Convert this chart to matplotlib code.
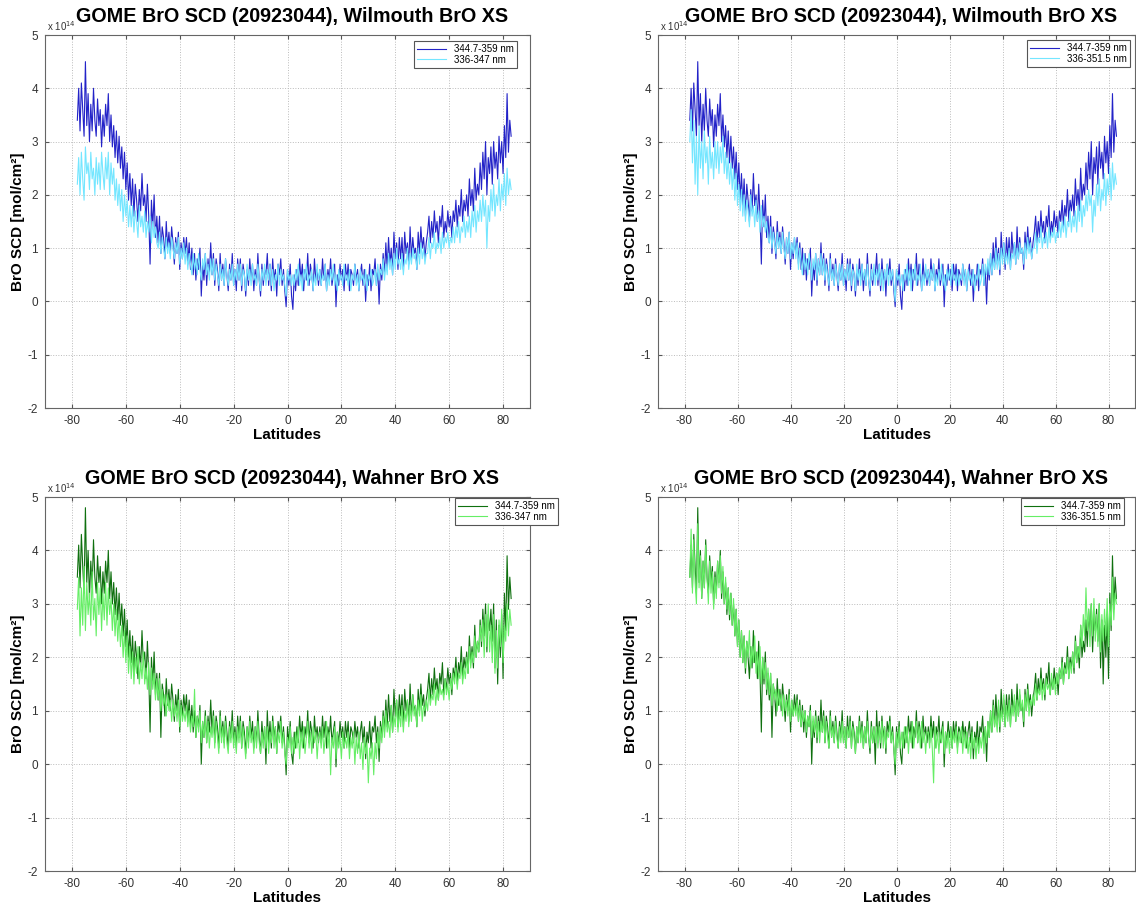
import numpy as np
import matplotlib
matplotlib.use('Agg')
import matplotlib.pyplot as plt

plt.rcParams['font.family'] = ['Liberation Sans', 'DejaVu Sans']
plt.rcParams['axes.unicode_minus'] = False

# latitude of the ground pixels along the orbit (deg)
lat = np.arange(-78, 83.5, 0.5)

# BrO slant columns in units of 1e14 molec/cm2, one row = 10 deg of latitude
wil_345 = [3.4, 4.0, 3.2, 4.1, 3.6, 3.1, 4.5, 3.3, 3.9, 3.0, 3.7, 3.2, 4.0, 3.4, 3.1, 3.8, 3.3, 3.6, 2.9, 3.5,
           3.1, 3.7, 3.3, 3.9, 3.0, 3.5, 2.9, 3.3, 2.7, 3.2, 2.6, 3.1, 2.5, 2.9, 2.3, 2.8, 2.1, 2.6, 1.9, 2.4,
           1.8, 2.3, 1.6, 2.2, 1.9, 1.5, 2.1, 1.7, 2.4, 1.8, 2.0, 1.5, 2.2, 1.6, 0.7, 1.9, 1.4, 2.0, 1.2, 1.6,
           1.1, 1.6, 0.9, 1.4, 1.2, 0.8, 1.5, 1.0, 1.3, 0.9, 1.4, 1.1, 0.7, 1.2, 0.9, 1.3, 0.6, 1.1, 0.8, 1.2,
           0.9, 1.2, 0.7, 1.1, 0.6, 1.0, 0.5, 0.9, 0.4, 0.8, 0.6, 1.0, 0.1, 0.7, 0.4, 0.9, 0.3, 0.8, 0.5, 1.1,
           0.5, 0.9, 0.3, 0.8, 0.6, 0.2, 0.9, 0.4, 0.7, 0.3, 0.8, 0.5, 0.2, 0.7, 0.4, 0.9, 0.3, 0.6, 0.2, 0.8,
           0.4, 0.8, 0.2, 0.7, 0.5, 0.1, 0.6, 0.3, 0.8, 0.4, 0.7, 0.2, 0.6, 0.3, 0.9, 0.4, 0.1, 0.7, 0.3, 0.6,
           0.5, 0.9, 0.3, 0.7, 0.2, 0.8, 0.4, 0.6, 0.1, 0.7, 0.5, 0.8, 0.3, 0.6, 0.2, -0.1, 0.6, 0.3, 0.7, 0.1,
           -0.15, 0.5, 0.2, 0.6, 0.3, 0.8, 0.4, 0.7, 0.2, 0.6, 0.4, 0.9, 0.3, 0.7, 0.5, 0.2, 0.8, 0.4, 0.6, 0.3,
           0.6, 0.3, 0.8, 0.4, 0.7, 0.2, 0.6, 0.4, 0.8, 0.3, 0.5, 0.7, -0.1, 0.5, 0.3, 0.7, 0.4, 0.6, 0.2, 0.7,
           0.4, 0.7, 0.2, 0.6, 0.5, 0.3, 0.7, 0.4, 0.6, 0.2, 0.5, 0.7, 0.3, 0.6, 0.0, 0.5, 0.3, 0.7, 0.2, 0.6,
           0.5, 0.8, 0.3, 0.6, -0.05, 0.7, 0.4, 0.9, 0.5, 1.1, 0.6, 1.2, 0.7, 1.0, 0.5, 1.3, 0.8, 1.1, 0.6, 1.2,
           0.8, 1.2, 0.6, 1.3, 0.9, 1.1, 0.7, 1.4, 0.8, 1.2, 0.9, 1.0, 0.6, 1.3, 0.9, 1.4, 1.0, 1.2, 0.8, 1.1,
           1.3, 1.6, 1.1, 1.5, 1.2, 1.7, 1.3, 1.5, 1.1, 1.6, 1.4, 1.8, 1.2, 1.5, 1.3, 1.7, 1.4, 1.6, 1.2, 1.7,
           1.5, 1.9, 1.4, 1.8, 1.6, 2.1, 1.5, 1.9, 1.7, 2.0, 1.6, 2.3, 1.8, 2.1, 1.7, 2.5, 1.9, 2.2, 2.0, 2.6,
           2.1, 2.8, 2.3, 3.0, 2.0, 2.7, 2.4, 2.9, 2.2, 3.0, 2.5, 2.8, 2.3, 3.1, 2.6, 3.0, 2.4, 3.3, 2.7, 3.9,
           2.8, 3.4, 3.1]

wil_336a = [2.2, 2.7, 2.0, 2.8, 2.3, 1.9, 2.9, 2.4, 2.6, 2.1, 2.8, 2.3, 2.5, 2.0, 2.7, 2.2, 2.6, 2.1, 2.8, 2.4,
            2.1, 2.7, 2.3, 2.8, 2.0, 2.6, 2.2, 2.5, 1.9, 2.3, 1.8, 2.2, 1.7, 2.1, 1.5, 2.0, 1.6, 1.9, 1.4, 1.8,
            1.4, 1.8, 1.3, 1.7, 1.5, 1.2, 1.8, 1.4, 1.6, 1.3, 1.7, 1.2, 1.5, 1.3, 1.6, 1.1, 1.5, 1.2, 1.4, 1.1,
            1.0, 1.3, 0.9, 1.2, 1.0, 0.8, 1.2, 0.9, 1.1, 0.8, 1.2, 1.0, 0.8, 1.1, 0.9, 1.2, 0.7, 1.0, 0.8, 1.1,
            0.7, 1.0, 0.6, 0.9, 0.7, 0.5, 0.9, 0.6, 0.8, 0.5, 0.9, 0.6, 0.4, 0.8, 0.6, 0.9, 0.5, 0.7, 0.4, 0.8,
            0.5, 0.8, 0.4, 0.7, 0.5, 0.3, 0.7, 0.4, 0.6, 0.3, 0.8, 0.5, 0.3, 0.6, 0.4, 0.7, 0.3, 0.6, 0.4, 0.7,
            0.4, 0.7, 0.3, 0.6, 0.5, 0.2, 0.7, 0.4, 0.6, 0.3, 0.7, 0.4, 0.5, 0.3, 0.7, 0.4, 0.2, 0.6, 0.4, 0.7,
            0.3, 0.6, 0.4, 0.7, 0.3, 0.6, 0.2, 0.5, 0.4, 0.7, 0.3, 0.6, 0.4, 0.5, 0.3, 0.1, 0.6, 0.4, 0.5, 0.3,
            0.5, 0.3, 0.6, 0.4, 0.7, 0.3, 0.5, 0.2, 0.6, 0.4, 0.7, 0.3, 0.5, 0.4, 0.6, 0.2, 0.5, 0.3, 0.7, 0.4,
            0.6, 0.3, 0.5, 0.4, 0.7, 0.2, 0.5, 0.3, 0.6, 0.4, 0.7, 0.3, 0.5, 0.2, 0.6, 0.4, 0.5, 0.3, 0.7, 0.4,
            0.5, 0.3, 0.6, 0.2, 0.5, 0.4, 0.7, 0.3, 0.5, 0.2, 0.6, 0.4, 0.5, 0.3, 0.6, 0.2, 0.5, 0.4, 0.6, 0.3,
            0.4, 0.6, 0.3, 0.7, 0.4, 0.6, 0.5, 0.8, 0.4, 0.7, 0.5, 0.9, 0.6, 0.8, 0.5, 0.9, 0.6, 1.0, 0.7, 0.8,
            0.6, 0.9, 0.5, 0.8, 0.7, 1.0, 0.6, 0.9, 0.7, 1.0, 0.8, 0.9, 0.6, 1.0, 0.7, 1.1, 0.8, 1.0, 0.7, 0.9,
            0.9, 1.2, 0.8, 1.1, 1.0, 1.3, 0.9, 1.1, 1.0, 1.2, 0.9, 1.3, 1.0, 1.2, 1.1, 1.3, 1.0, 1.2, 1.1, 1.4,
            1.1, 1.4, 1.2, 1.5, 1.1, 1.4, 1.3, 1.6, 1.2, 1.5, 1.3, 1.6, 1.2, 1.7, 1.4, 1.8, 1.3, 1.7, 1.5, 1.9,
            1.5, 2.0, 1.6, 1.9, 1.0, 1.8, 1.5, 2.1, 1.7, 2.2, 1.6, 2.0, 1.8, 2.3, 1.7, 2.2, 1.9, 2.4, 1.8, 2.5,
            2.0, 2.3, 2.1]

wil_336b = [3.0, 3.6, 2.6, 3.4, 2.2, 3.1, 2.0, 3.3, 2.5, 3.0, 2.3, 3.2, 2.6, 2.9, 2.2, 3.1, 2.5, 2.8, 2.3, 3.0,
            2.5, 3.0, 2.4, 2.9, 2.6, 3.1, 2.4, 2.8, 2.3, 2.7, 2.2, 2.6, 2.1, 2.5, 1.9, 2.4, 1.8, 2.2, 1.7, 2.1,
            1.6, 2.0, 1.5, 1.9, 1.7, 1.4, 2.0, 1.6, 1.8, 1.4, 1.9, 1.5, 1.7, 1.3, 1.8, 1.4, 1.6, 1.3, 1.5, 1.2,
            1.1, 1.4, 1.0, 1.3, 1.1, 0.9, 1.3, 1.0, 1.2, 0.9, 1.3, 1.0, 0.8, 1.2, 0.9, 1.3, 0.8, 1.1, 0.9, 1.2,
            0.8, 1.1, 0.6, 1.0, 0.7, 0.5, 0.9, 0.6, 0.8, 0.5, 0.9, 0.7, 0.4, 0.8, 0.6, 0.9, 0.4, 0.8, 0.5, 0.9,
            0.5, 0.8, 0.4, 0.7, 0.5, 0.3, 0.8, 0.4, 0.6, 0.3, 0.7, 0.5, 0.3, 0.7, 0.4, 0.7, 0.3, 0.6, 0.4, 0.7,
            0.4, 0.7, 0.3, 0.6, 0.5, 0.2, 0.7, 0.4, 0.6, 0.3, 0.7, 0.4, 0.6, 0.3, 0.7, 0.4, 0.2, 0.6, 0.4, 0.7,
            0.3, 0.6, 0.4, 0.7, 0.3, 0.6, 0.2, 0.6, 0.4, 0.7, 0.3, 0.6, 0.4, 0.6, 0.3, 0.0, 0.6, 0.4, 0.5, 0.3,
            0.5, 0.2, 0.6, 0.4, 0.7, 0.3, 0.6, 0.2, 0.6, 0.4, 0.7, 0.3, 0.5, 0.4, 0.7, 0.2, 0.5, 0.3, 0.7, 0.4,
            0.6, 0.3, 0.6, 0.4, 0.7, 0.2, 0.5, 0.3, 0.6, 0.4, 0.7, 0.3, 0.5, 0.2, 0.6, 0.4, 0.6, 0.3, 0.7, 0.4,
            0.5, 0.3, 0.6, 0.3, 0.5, 0.4, 0.7, 0.3, 0.6, 0.2, 0.6, 0.4, 0.5, 0.3, 0.6, 0.2, 0.5, 0.4, 0.7, 0.3,
            0.4, 0.7, 0.3, 0.7, 0.5, 0.8, 0.5, 0.9, 0.5, 0.8, 0.6, 1.0, 0.6, 0.9, 0.6, 1.0, 0.7, 1.1, 0.7, 0.9,
            0.7, 1.0, 0.6, 0.9, 0.8, 1.1, 0.7, 1.0, 0.8, 1.1, 0.9, 1.0, 0.7, 1.1, 0.8, 1.2, 0.9, 1.1, 0.8, 1.0,
            1.0, 1.3, 0.9, 1.2, 1.1, 1.4, 1.0, 1.2, 1.1, 1.3, 1.0, 1.4, 1.1, 1.3, 1.2, 1.4, 1.1, 1.3, 1.2, 1.5,
            1.2, 1.5, 1.3, 1.6, 1.2, 1.5, 1.4, 1.7, 1.3, 1.6, 1.4, 1.7, 1.3, 1.8, 1.5, 1.9, 1.4, 1.8, 1.6, 2.0,
            1.7, 2.1, 1.8, 2.0, 1.3, 1.9, 1.6, 2.2, 1.8, 2.3, 1.7, 2.1, 1.9, 2.4, 1.8, 2.3, 2.0, 2.5, 1.9, 2.6,
            2.1, 2.4, 2.2]

wah_345 = [3.5, 4.1, 3.3, 4.3, 3.7, 3.2, 4.8, 3.4, 4.0, 3.1, 3.8, 3.3, 4.2, 3.5, 3.2, 3.9, 3.4, 3.7, 3.0, 3.6,
           3.2, 3.8, 3.4, 4.0, 3.1, 3.6, 3.0, 3.4, 2.8, 3.3, 2.7, 3.2, 2.6, 3.0, 2.4, 2.9, 2.2, 2.7, 2.0, 2.5,
           1.9, 2.4, 1.7, 2.3, 2.0, 1.6, 2.2, 1.8, 2.5, 1.9, 2.1, 1.6, 2.3, 1.7, 0.6, 2.0, 1.5, 2.1, 1.3, 1.7,
           1.2, 1.7, 0.5, 1.5, 1.3, 0.9, 1.6, 1.1, 1.4, 1.0, 1.5, 1.2, 0.8, 1.3, 1.0, 1.4, 0.6, 1.2, 0.9, 1.3,
           1.0, 1.3, 0.8, 1.2, 0.7, 1.1, 0.6, 1.0, 0.5, 0.9, 0.7, 1.1, 0.0, 0.8, 0.5, 1.0, 0.4, 0.9, 0.6, 1.2,
           0.6, 1.0, 0.4, 0.9, 0.7, 0.3, 1.0, 0.5, 0.8, 0.4, 0.9, 0.6, 0.3, 0.8, 0.5, 1.0, 0.4, 0.7, 0.3, 0.9,
           0.5, 0.9, 0.3, 0.8, 0.6, 0.2, 0.7, 0.4, 0.9, 0.5, 0.8, 0.3, 0.7, 0.4, 1.0, 0.5, 0.2, 0.8, 0.4, 0.7,
           0.0, 1.0, 0.4, 0.8, 0.3, 0.9, 0.5, 0.7, 0.2, 0.8, 0.6, 0.9, 0.4, 0.7, 0.3, -0.2, 0.7, 0.4, 0.8, 0.2,
           0.0, 0.6, 0.3, 0.7, 0.4, 0.9, 0.5, 0.8, 0.3, 0.7, 0.5, 1.0, 0.4, 0.8, 0.6, 0.3, 0.9, 0.5, 0.7, 0.4,
           0.7, 0.4, 0.9, 0.5, 0.8, 0.3, 0.7, 0.5, 0.9, 0.4, 0.6, 0.8, -0.05, 0.6, 0.4, 0.8, 0.5, 0.7, 0.3, 0.8,
           0.5, 0.8, 0.3, 0.7, 0.6, 0.4, 0.8, 0.5, 0.7, 0.3, 0.6, 0.8, 0.4, 0.7, 0.1, 0.6, 0.4, 0.8, 0.3, 0.7,
           0.6, 0.9, 0.4, 0.7, 0.05, 0.8, 0.5, 1.0, 0.6, 1.2, 0.7, 1.3, 0.8, 1.1, 0.6, 1.4, 0.9, 1.2, 0.7, 1.3,
           0.9, 1.3, 0.7, 1.4, 1.0, 1.2, 0.8, 1.5, 0.9, 1.3, 1.0, 1.1, 0.7, 1.4, 1.0, 1.5, 1.1, 1.3, 0.9, 1.2,
           1.4, 1.7, 1.2, 1.6, 1.3, 1.8, 1.4, 1.6, 1.2, 1.7, 1.5, 1.9, 1.3, 1.6, 1.4, 1.8, 1.5, 1.7, 1.3, 1.8,
           1.6, 2.0, 1.5, 1.9, 1.7, 2.2, 1.6, 2.0, 1.8, 2.1, 1.7, 2.4, 1.9, 2.2, 1.8, 2.6, 2.0, 2.3, 2.1, 2.7,
           2.2, 2.9, 2.4, 3.0, 2.1, 2.8, 2.5, 2.9, 2.3, 3.0, 1.8, 2.7, 1.5, 2.6, 2.0, 2.8, 1.6, 3.2, 2.5, 3.9,
           2.9, 3.5, 3.1]

wah_336a = [2.9, 3.5, 2.4, 3.3, 2.6, 3.7, 2.5, 3.4, 2.8, 3.2, 2.6, 3.6, 2.7, 3.1, 2.4, 3.4, 2.8, 3.3, 2.5, 3.2,
            2.7, 3.4, 2.6, 3.3, 2.8, 3.1, 2.5, 3.0, 2.4, 2.9, 2.3, 2.8, 2.2, 2.6, 2.0, 2.5, 1.9, 2.4, 1.7, 2.2,
            1.6, 2.1, 1.5, 2.0, 1.7, 2.2, 1.5, 1.9, 1.6, 2.1, 1.5, 1.8, 1.4, 1.9, 1.3, 1.8, 1.4, 1.7, 1.2, 1.6,
            1.2, 1.6, 1.0, 1.4, 1.1, 1.3, 0.9, 1.3, 1.0, 1.2, 0.8, 1.2, 0.9, 1.1, 0.8, 1.2, 0.7, 1.1, 0.8, 1.0,
            0.8, 1.1, 0.7, 1.0, 0.6, 0.9, 0.7, 1.4, 0.5, 0.9, 0.6, 1.0, 0.4, 0.8, 0.5, 0.9, 0.4, 0.8, 0.3, 0.7,
            0.5, 0.9, 0.3, 0.8, 0.5, 0.2, 0.9, 0.4, 0.7, 0.3, 0.8, 0.4, 0.2, 0.7, 0.4, 0.8, 0.3, 0.6, 0.2, 0.7,
            0.4, 0.8, 0.3, 0.7, 0.4, 0.1, 0.7, 0.3, 0.8, 0.4, 0.6, 0.2, 0.7, 0.3, 0.8, 0.4, 0.2, 0.6, 0.3, 0.7,
            0.3, 0.7, 0.2, 0.6, 0.4, 0.8, 0.3, 0.7, 0.2, 0.6, 0.4, 0.8, 0.3, 0.6, 0.2, 0.0, 0.5, 0.3, 0.7, 0.2,
            0.5, 0.2, 0.6, 0.3, 0.7, 0.1, 0.6, 0.3, 0.7, 0.2, 0.5, 0.8, 0.3, 0.6, 0.2, 0.7, 0.4, 0.6, 0.1, 0.5,
            0.6, 0.3, 0.7, 0.2, 0.5, 0.8, 0.3, 0.6, -0.2, 0.5, 0.3, 0.7, 0.1, 0.6, 0.3, 0.5, 0.1, 0.6, 0.3, 0.5,
            0.3, 0.6, 0.1, 0.5, 0.3, 0.6, 0.0, 0.5, 0.2, 0.6, 0.1, 0.4, -0.1, 0.5, 0.2, 0.4, -0.35, 0.3, 0.1, 0.4,
            -0.2, 0.4, 0.1, 0.6, 0.3, 0.7, 0.4, 0.9, 0.5, 1.0, 0.6, 0.8, 0.5, 1.1, 0.6, 0.9, 0.7, 1.2, 0.6, 1.0,
            0.7, 1.1, 0.6, 1.0, 0.8, 1.2, 0.7, 1.1, 0.8, 1.3, 0.9, 1.1, 0.7, 1.2, 0.9, 1.3, 0.8, 1.1, 1.0, 1.2,
            1.0, 1.4, 1.1, 1.3, 1.2, 1.5, 1.1, 1.4, 1.2, 1.5, 1.3, 1.4, 1.2, 1.6, 1.3, 1.5, 1.2, 1.6, 1.4, 1.7,
            1.5, 1.8, 1.4, 1.7, 1.6, 1.9, 1.5, 1.8, 1.6, 2.0, 1.7, 2.2, 1.8, 2.1, 1.9, 2.4, 2.0, 2.3, 2.1, 2.6,
            2.3, 2.7, 2.0, 2.8, 2.2, 3.0, 2.1, 2.6, 1.9, 2.8, 1.7, 2.5, 1.8, 2.7, 2.2, 2.9, 1.9, 2.6, 2.3, 3.0,
            2.4, 2.9, 2.6]

wah_336b = [3.5, 4.4, 3.2, 4.2, 3.4, 3.0, 4.5, 3.3, 3.9, 3.1, 3.8, 3.3, 4.1, 3.5, 3.0, 3.8, 3.2, 3.6, 2.9, 3.5,
            3.1, 3.8, 3.3, 3.9, 3.2, 3.7, 3.0, 3.5, 2.9, 3.3, 2.8, 3.2, 2.6, 3.1, 2.4, 2.9, 2.2, 2.7, 2.0, 2.5,
            1.9, 2.4, 1.8, 2.3, 2.0, 2.5, 1.8, 2.2, 1.9, 2.4, 1.7, 2.1, 1.6, 2.2, 1.5, 2.0, 1.6, 1.9, 1.4, 1.8,
            1.3, 1.7, 1.1, 1.5, 1.2, 1.4, 1.0, 1.4, 1.1, 1.3, 0.9, 1.3, 1.0, 1.2, 0.9, 1.3, 0.8, 1.2, 0.9, 1.1,
            0.9, 1.2, 0.8, 1.1, 0.7, 1.0, 0.8, 1.0, 0.6, 0.9, 0.7, 1.0, 0.5, 0.9, 0.6, 0.9, 0.5, 0.8, 0.4, 0.8,
            0.6, 0.9, 0.4, 0.8, 0.5, 0.3, 0.9, 0.5, 0.7, 0.4, 0.8, 0.5, 0.3, 0.7, 0.4, 0.8, 0.4, 0.7, 0.3, 0.7,
            0.5, 0.8, 0.3, 0.7, 0.5, 0.2, 0.7, 0.4, 0.8, 0.4, 0.7, 0.3, 0.7, 0.4, 0.8, 0.5, 0.3, 0.7, 0.4, 0.7,
            0.4, 0.7, 0.3, 0.7, 0.4, 0.8, 0.3, 0.7, 0.3, 0.6, 0.5, 0.8, 0.4, 0.6, 0.3, 0.0, 0.6, 0.3, 0.7, 0.3,
            0.6, 0.3, 0.7, 0.4, 0.7, 0.2, 0.6, 0.4, 0.8, 0.3, 0.6, 0.8, 0.4, 0.7, 0.3, 0.8, 0.4, 0.6, 0.2, 0.6,
            0.6, 0.3, 0.7, 0.3, -0.35, 0.7, 0.3, 0.6, 0.2, 0.6, 0.4, 0.7, 0.2, 0.6, 0.3, 0.6, 0.2, 0.7, 0.3, 0.6,
            0.4, 0.7, 0.2, 0.6, 0.4, 0.7, 0.2, 0.6, 0.3, 0.6, 0.2, 0.5, 0.1, 0.6, 0.3, 0.5, 0.1, 0.5, 0.2, 0.5,
            0.3, 0.6, 0.2, 0.7, 0.4, 0.8, 0.5, 1.0, 0.6, 1.1, 0.7, 0.9, 0.6, 1.2, 0.7, 1.0, 0.8, 1.3, 0.7, 1.1,
            0.8, 1.2, 0.7, 1.1, 0.9, 1.3, 0.8, 1.2, 0.9, 1.4, 1.0, 1.2, 0.8, 1.3, 1.0, 1.4, 0.9, 1.2, 1.1, 1.3,
            1.1, 1.5, 1.2, 1.4, 1.3, 1.6, 1.2, 1.5, 1.3, 1.6, 1.4, 1.5, 1.3, 1.7, 1.4, 1.6, 1.3, 1.7, 1.5, 1.8,
            1.6, 1.9, 1.5, 1.8, 1.7, 2.0, 1.6, 1.9, 1.7, 2.1, 1.8, 2.3, 1.9, 2.2, 2.0, 2.6, 2.2, 2.8, 2.4, 3.3,
            2.5, 2.9, 2.2, 3.0, 2.4, 3.1, 2.3, 2.8, 2.2, 3.0, 2.1, 2.8, 2.3, 2.9, 2.4, 3.1, 2.2, 3.0, 2.6, 3.5,
            2.7, 3.2, 3.0]

title_wil = 'GOME BrO SCD (20923044), Wilmouth BrO XS'
title_wah = 'GOME BrO SCD (20923044), Wahner BrO XS'

W, H = 1136, 906

# axes box in pixels (left, top, right, bottom), legend corner (right, top) in pixels
panels = [
    ([45, 35, 530, 408], (517, 41), title_wil, wil_345, wil_336a, '336-347 nm', '#2323c8', '#74e6ff'),
    ([658, 35, 1135, 408], (1130, 40), title_wil, wil_345, wil_336b, '336-351.5 nm', '#2323c8', '#74e6ff'),
    ([45, 497, 530, 871], (558, 498), title_wah, wah_345, wah_336a, '336-347 nm', '#0f700f', '#66ee66'),
    ([658, 497, 1135, 871], (1124, 498), title_wah, wah_345, wah_336b, '336-351.5 nm', '#0f700f', '#66ee66'),
]

fig = plt.figure(figsize=(W / 100., H / 100.), dpi=100)

for rect, lpos, title, dark, light, lab, cdark, clight in panels:
    x0, y0, x1, y1 = rect
    ax = fig.add_axes([x0 / W, 1 - y1 / H, (x1 - x0) / W, (y1 - y0) / H])
    ax.plot(lat, dark, color=cdark, linewidth=0.8, label='344.7-359 nm')
    ax.plot(lat, light, color=clight, linewidth=0.8, label=lab)
    ax.set_xlim(-90, 90)
    ax.set_ylim(-2, 5)
    ax.set_xticks(np.arange(-80, 81, 20))
    ax.set_yticks(np.arange(-2, 6))
    ax.grid(True, linestyle=':', color='#bbbbbb', linewidth=0.7)
    ax.tick_params(direction='in', labelsize=8.5, labelcolor='#333333', color='#555555',
                   top=True, right=True, length=3, pad=5)
    for s in ax.spines.values():
        s.set_color('#666666')
        s.set_linewidth(0.8)
    # column scale factor, MATLAB style, above the y axis
    ax.text(0.005, 1.005, 'x 10$^{14}$', transform=ax.transAxes, fontsize=7,
            color='#333333', ha='left', va='bottom')
    fig.text((x0 + x1) / 2. / W + 0.004, 1 - (y0 - 19) / H, title, fontsize=14.2,
             fontweight='bold', ha='center', va='center')
    ax.set_xlabel('Latitudes', fontsize=11, fontweight='bold', labelpad=1)
    ax.set_ylabel('BrO SCD [mol/cm²]', fontsize=11, fontweight='bold', labelpad=2)
    leg = ax.legend(loc='upper right', bbox_to_anchor=(lpos[0] / W, 1 - lpos[1] / H),
                    bbox_transform=fig.transFigure, borderaxespad=0, fontsize=7,
                    fancybox=False, framealpha=1, borderpad=0.3, handlelength=3,
                    labelspacing=0.1)
    leg.get_frame().set_edgecolor('#555555')
    leg.get_frame().set_linewidth(0.8)

plt.savefig('out.png', dpi=100)
plt.close()
